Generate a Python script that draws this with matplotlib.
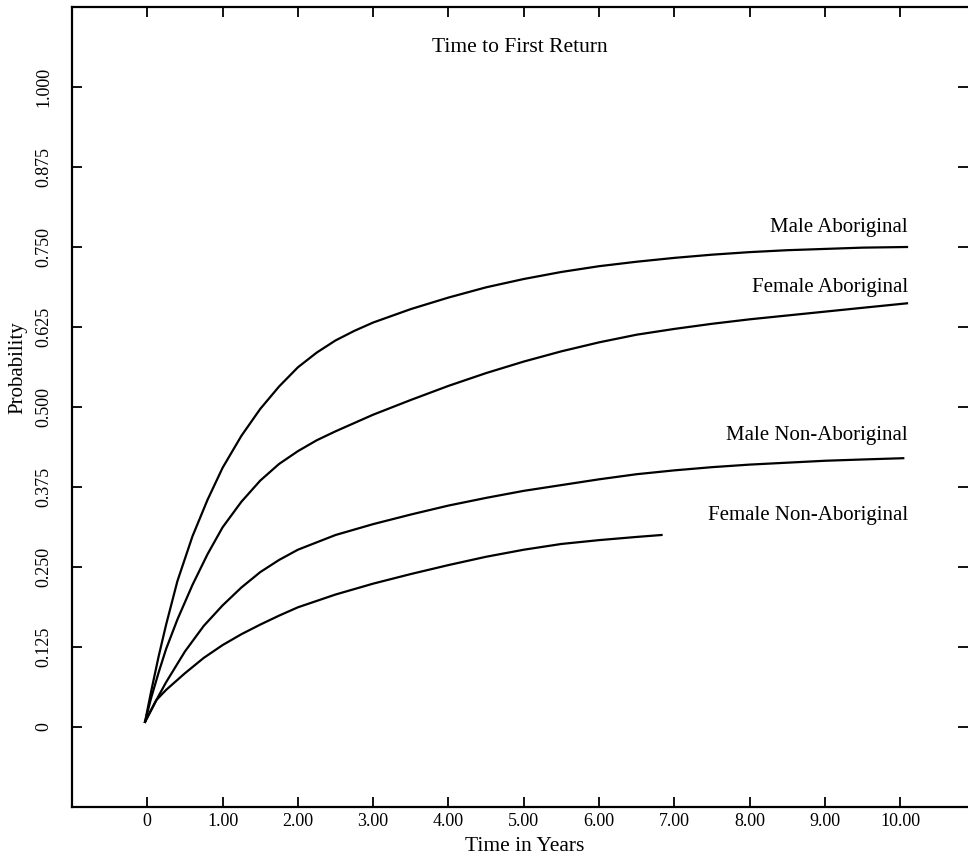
import numpy as np
import matplotlib
matplotlib.use("Agg")
import matplotlib.pyplot as plt

plt.rcParams['font.family'] = ['Liberation Serif', 'DejaVu Serif']

years_ma = [-0.03, 0.05, 0.15, 0.25, 0.4, 0.6, 0.8, 1.0, 1.25, 1.5, 1.75, 2.0, 2.25, 2.5,
            2.75, 3.0, 3.5, 4.0, 4.5, 5.0, 5.5, 6.0, 6.5, 7.0, 7.5, 8.0, 8.5, 9.0, 9.5, 10.09]
male_abor = [0.008, 0.055, 0.11, 0.16, 0.228, 0.298, 0.355, 0.405, 0.455, 0.497, 0.532,
             0.562, 0.585, 0.604, 0.619, 0.632, 0.653, 0.671, 0.687, 0.700, 0.711, 0.720,
             0.727, 0.733, 0.738, 0.742, 0.745, 0.747, 0.749, 0.750]

years_fa = [-0.03, 0.05, 0.15, 0.25, 0.4, 0.6, 0.8, 1.0, 1.25, 1.5, 1.75, 2.0, 2.25, 2.5,
            2.75, 3.0, 3.5, 4.0, 4.5, 5.0, 5.5, 6.0, 6.5, 7.0, 7.5, 8.0, 8.5, 9.0, 9.5, 10.09]
female_abor = [0.008, 0.045, 0.085, 0.122, 0.168, 0.222, 0.270, 0.312, 0.352, 0.385, 0.411,
               0.431, 0.448, 0.462, 0.475, 0.488, 0.511, 0.533, 0.553, 0.571, 0.587, 0.601,
               0.613, 0.622, 0.630, 0.637, 0.643, 0.649, 0.655, 0.662]

years_mn = [-0.03, 0.12, 0.25, 0.5, 0.75, 1.0, 1.25, 1.5, 1.75, 2.0, 2.5, 3.0, 3.5, 4.0,
            4.5, 5.0, 5.5, 6.0, 6.5, 7.0, 7.5, 8.0, 8.5, 9.0, 9.5, 10.04]
male_non = [0.008, 0.042, 0.07, 0.118, 0.158, 0.19, 0.218, 0.242, 0.261, 0.277, 0.300,
            0.317, 0.332, 0.346, 0.358, 0.369, 0.378, 0.387, 0.395, 0.401, 0.406, 0.410,
            0.413, 0.416, 0.418, 0.420]

years_fn = [-0.03, 0.12, 0.25, 0.5, 0.75, 1.0, 1.25, 1.5, 1.75, 2.0, 2.5, 3.0, 3.5, 4.0,
            4.5, 5.0, 5.5, 6.0, 6.5, 6.83]
female_non = [0.008, 0.042, 0.058, 0.084, 0.108, 0.128, 0.145, 0.160, 0.174, 0.187, 0.207,
              0.224, 0.239, 0.253, 0.266, 0.277, 0.286, 0.292, 0.297, 0.300]

labels = ["Male Aboriginal", "Female Aboriginal", "Male Non-Aboriginal", "Female Non-Aboriginal"]
label_y = [0.781, 0.686, 0.456, 0.331]

xticks = list(range(11))
xticklabels = ["0"] + ["%.2f" % v for v in xticks[1:]]
yticks = [0, 0.125, 0.25, 0.375, 0.5, 0.625, 0.75, 0.875, 1.0]
yticklabels = ["0"] + ["%.3f" % v for v in yticks[1:]]

fig = plt.figure(figsize=(9.68, 8.58), dpi=100)
ax = fig.add_axes([72 / 968, 51 / 858, 896 / 968, 800 / 858])

for xs, ys in [(years_ma, male_abor), (years_fa, female_abor),
               (years_mn, male_non), (years_fn, female_non)]:
    ax.plot(xs, ys, color='black', lw=1.6, solid_joinstyle='round')

for lab, ly in zip(labels, label_y):
    ax.text(10.1, ly, lab, ha='right', va='center', fontsize=15)

ax.text(0.5, 0.95, "Time to First Return", transform=ax.transAxes,
        ha='center', va='center', fontsize=15.5)

ax.set_xlim(-1.0, 10.9)
ax.set_ylim(-0.125, 1.125)
ax.set_xticks(xticks)
ax.set_xticklabels(xticklabels, fontsize=13)
ax.set_yticks(yticks)
ax.set_yticklabels(yticklabels, fontsize=13, rotation=90, va='center')

ax.tick_params(direction='in', length=7, width=1.3, top=True, right=True)
ax.tick_params(axis='x', pad=4)
ax.tick_params(axis='y', pad=14)

for side in ['left', 'bottom', 'top']:
    ax.spines[side].set_linewidth(1.6)
ax.spines['right'].set_visible(False)

ax.set_xlabel("Time in Years", fontsize=15.5)
ax.xaxis.set_label_coords(0.505, -0.037)
ax.set_ylabel("Probability", fontsize=15)
ax.yaxis.set_label_coords(-0.05, 0.549)

fig.savefig("out.png", dpi=100)
